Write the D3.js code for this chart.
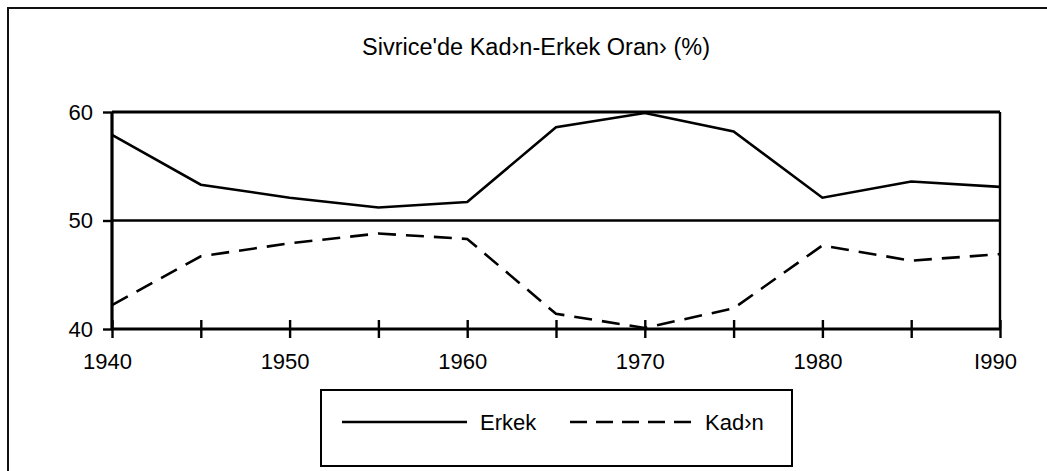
<!DOCTYPE html>
<html>
<head>
<meta charset="utf-8">
<script src="https://cdn.jsdelivr.net/npm/d3@7.9.0/dist/d3.min.js"></script>
<style>
  body { margin: 0; background: #fff; }
  svg { display: block; font-family: "Liberation Sans", Arial, sans-serif; }
</style>
</head>
<body>
<svg id="chart" width="1047" height="471"></svg>
<script>
const years = [1940, 1945, 1950, 1955, 1960, 1965, 1970, 1975, 1980, 1985, 1990];
const erkek = [57.9, 53.3, 52.1, 51.2, 51.7, 58.6, 59.9, 58.2, 52.1, 53.6, 53.1];
const kadin = [42.2, 46.7, 47.9, 48.8, 48.3, 41.4, 40.1, 41.9, 47.7, 46.3, 46.9];
const labelYears = [1940, 1950, 1960, 1970, 1980, 1990];
const labelTexts = ["1940", "1950", "1960", "1970", "1980", "I990"];
const yTicks = [40, 50, 60];

const svg = d3.select("#chart");

// outer frame (runs off the right and bottom edges)
svg.append("rect")
  .attr("x", 8).attr("y", 8)
  .attr("width", 1100).attr("height", 500)
  .attr("fill", "none").attr("stroke", "#111").attr("stroke-width", 2);

svg.append("text")
  .attr("x", 536).attr("y", 55)
  .attr("text-anchor", "middle")
  .attr("font-size", 23.5)
  .text("Sivrice'de Kad\u203An-Erkek Oran\u203A (%)");

const x = d3.scaleLinear().domain([1940, 1990]).range([112, 1000]);
const y = d3.scaleLinear().domain([40, 60]).range([329, 112]);

// frame of plot: top and right
svg.append("line")
  .attr("x1", x(1940)).attr("x2", x(1990))
  .attr("y1", y(60)).attr("y2", y(60))
  .attr("stroke", "#000").attr("stroke-width", 3);
svg.append("line")
  .attr("x1", x(1990)).attr("x2", x(1990))
  .attr("y1", y(60)).attr("y2", y(40))
  .attr("stroke", "#000").attr("stroke-width", 2.4);

// 50 line
svg.append("line")
  .attr("x1", x(1940)).attr("x2", x(1990))
  .attr("y1", y(50)).attr("y2", y(50))
  .attr("stroke", "#000").attr("stroke-width", 2.4);

// y axis
const yAxis = svg.append("g")
  .attr("transform", `translate(${x(1940)},0)`)
  .call(d3.axisLeft(y).tickValues(yTicks).tickSize(9).tickPadding(10).tickFormat(d3.format("d")));
yAxis.select(".domain").attr("stroke-width", 3.2).attr("d", `M0,${y(60)}V${y(40)}`);
yAxis.selectAll(".tick line").attr("stroke-width", 2.4);
yAxis.selectAll("text")
  .attr("font-size", 22).attr("font-family", "Liberation Sans, Arial, sans-serif")
  .attr("fill", "#000");

// x axis with ticks crossing the line
const xAxis = svg.append("g")
  .attr("transform", `translate(0,${y(40)})`)
  .call(d3.axisBottom(x).tickValues(years).tickSize(9).tickFormat(""));
xAxis.select(".domain").attr("stroke-width", 3.2).attr("d", `M${x(1940)},0H${x(1990)}`);
xAxis.selectAll(".tick line").attr("y1", -9).attr("stroke-width", 2.4);

const xLabels = svg.append("g")
  .attr("transform", `translate(0,${y(40)})`)
  .call(d3.axisBottom(x).tickValues(labelYears).tickSize(0).tickPadding(24)
    .tickFormat((d, i) => labelTexts[i]));
xLabels.select(".domain").remove();
xLabels.selectAll("text")
  .attr("font-size", 22).attr("font-family", "Liberation Sans, Arial, sans-serif")
  .attr("fill", "#000").attr("dx", -5);

// series lines
const line = d3.line().x((d, i) => x(years[i])).y(d => y(d));
svg.append("path")
  .datum(erkek)
  .attr("d", line)
  .attr("fill", "none").attr("stroke", "#000").attr("stroke-width", 2.6)
  .attr("stroke-linejoin", "miter");
svg.append("path")
  .datum(kadin)
  .attr("d", line)
  .attr("fill", "none").attr("stroke", "#000").attr("stroke-width", 2.6)
  .attr("stroke-dasharray", "18,10");

// legend
const legend = svg.append("g");
legend.append("rect")
  .attr("x", 321).attr("y", 390).attr("width", 471).attr("height", 76)
  .attr("fill", "#fff").attr("stroke", "#000").attr("stroke-width", 2);
legend.append("line")
  .attr("x1", 342).attr("x2", 467).attr("y1", 422).attr("y2", 422)
  .attr("stroke", "#000").attr("stroke-width", 2.6);
legend.append("text")
  .attr("x", 480).attr("y", 430).attr("font-size", 22).text("Erkek");
legend.append("line")
  .attr("x1", 570).attr("x2", 697).attr("y1", 422).attr("y2", 422)
  .attr("stroke", "#000").attr("stroke-width", 2.6)
  .attr("stroke-dasharray", "17,9");
legend.append("text")
  .attr("x", 705).attr("y", 430).attr("font-size", 22).text("Kad\u203An");
</script>
</body>
</html>
